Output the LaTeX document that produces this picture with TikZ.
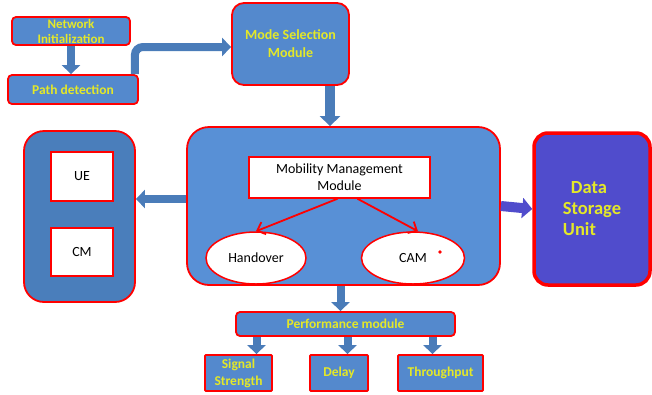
\documentclass[tikz,border=0pt]{standalone}
\usepackage{fontspec}
\setmainfont{Carlito}
\usetikzlibrary{arrows.meta,shapes.geometric}
\definecolor{boxblue}{RGB}{84,137,205}
\definecolor{mmblue}{RGB}{88,144,214}
\definecolor{leftblue}{RGB}{74,126,187}
\definecolor{storeblue}{RGB}{80,76,204}
\definecolor{arrblue}{RGB}{74,124,185}
\definecolor{ylw}{RGB}{228,232,40}
\tikzset{
  >=latex,
}
\tikzstyle{every node}=[font=\fontsize{14}{17}\selectfont]
\tikzstyle{module}=[draw=red,line width=1.8pt,fill=boxblue,rounded corners=4pt,text=ylw,font=\bfseries\fontsize{13.5}{17}\selectfont,align=center,inner sep=0pt]
\tikzstyle{whitebox}=[draw=red,line width=1.5pt,fill=white,align=center,inner sep=0pt]
\tikzstyle{barrow}=[draw=arrblue,line width=8pt,-{Triangle[width=18pt,length=9pt]}]
\tikzstyle{redarrow}=[draw=red,line width=1.8pt,-{Straight Barb[length=7pt,width=13pt]}]

\begin{document}
\begin{tikzpicture}[x=1pt,y=-1pt]
    \useasboundingbox (0,0) rectangle (652,394);
    % top row
    \node[module,minimum width=118pt,minimum height=28pt,font=\bfseries\fontsize{13}{15}\selectfont] (netinit) at (71,31) {Network\\Initialization};
    \node[module,minimum width=130pt,minimum height=29pt] (pathdet) at (73,89.5) {Path detection};
    \node[module,rounded corners=12pt,minimum width=117pt,minimum height=82pt,font=\bfseries\fontsize{14}{18}\selectfont] (modesel) at (290.5,44) {Mode Selection\\Module};
    % mobility management
    \node[module,fill=mmblue,rounded corners=22pt,minimum width=313pt,minimum height=158pt] (mobbox) at (343.5,206) {};
    \node[whitebox,minimum width=181pt,minimum height=41pt] (mmm) at (339.5,177.5) {Mobility Management\\Module};
    \node[whitebox,ellipse,minimum width=100pt,minimum height=52pt] (handover) at (256,258) {Handover};
    \node[whitebox,ellipse,minimum width=103pt,minimum height=52pt] (cam) at (413,258) {CAM};
    \fill[red] (440,252) circle (1.8pt);
    \draw[redarrow] ([xshift=-2pt]mmm.south) -- (handover.north);
    \draw[redarrow] ([xshift=18pt]mmm.south) -- ([xshift=5pt]cam.north);
    % side units
    \node[module,fill=leftblue,rounded corners=20pt,minimum width=111pt,minimum height=171pt] (side) at (79.5,216.5) {};
    \node[whitebox,minimum width=62pt,minimum height=49pt] (ue) at (82,176.5) {UE};
    \node[whitebox,minimum width=62pt,minimum height=48pt] (cm) at (82,252) {CM};
    \node[module,fill=storeblue,line width=3.5pt,rounded corners=14pt,minimum width=116pt,minimum height=152pt,align=left,font=\bfseries\fontsize{18.5}{21}\selectfont] (store) at (592,209) {\hspace{8pt}Data\\Storage\\Unit};
    % performance
    \node[module,minimum width=219pt,minimum height=24pt] (perf) at (345.5,324) {Performance module};
    \node[module,rounded corners=1pt,minimum width=67pt,minimum height=36pt] (signal) at (238.5,373) {Signal\\Strength};
    \node[module,rounded corners=1pt,minimum width=58pt,minimum height=36pt] (delay) at (339,373) {Delay};
    \node[module,rounded corners=1pt,minimum width=85pt,minimum height=36pt] (thru) at (440.5,373) {Throughput};
    % block arrows
    \draw[barrow] (netinit.south) -- (netinit.south |- pathdet.north);
    \draw[barrow,rounded corners=8pt] ([xshift=-4pt]pathdet.north east) |- ([yshift=-3pt]modesel.west);
    \draw[barrow,line width=10pt,-{Triangle[width=20pt,length=10pt]}] ([xshift=39.5pt]modesel.south) -- ([xshift=39.5pt]modesel.south |- mobbox.north);
    \draw[barrow] ([yshift=7pt]mobbox.west) -- ([yshift=7pt]mobbox.west -| side.east);
    \draw[barrow,draw=storeblue,line width=10pt,-{Triangle[width=20pt,length=10pt]}] (mobbox.east) -- (store.west);
    \draw[barrow] ([xshift=-3pt]mobbox.south) -- ([xshift=-3pt]mobbox.south |- perf.north);
    \foreach \dx/\leaf in {-89/signal,2/delay,87/thru}
      \draw[barrow] ([xshift=\dx pt]perf.south) -- ([xshift=\dx pt]perf.south |- \leaf.north);
\end{tikzpicture}
\end{document}
